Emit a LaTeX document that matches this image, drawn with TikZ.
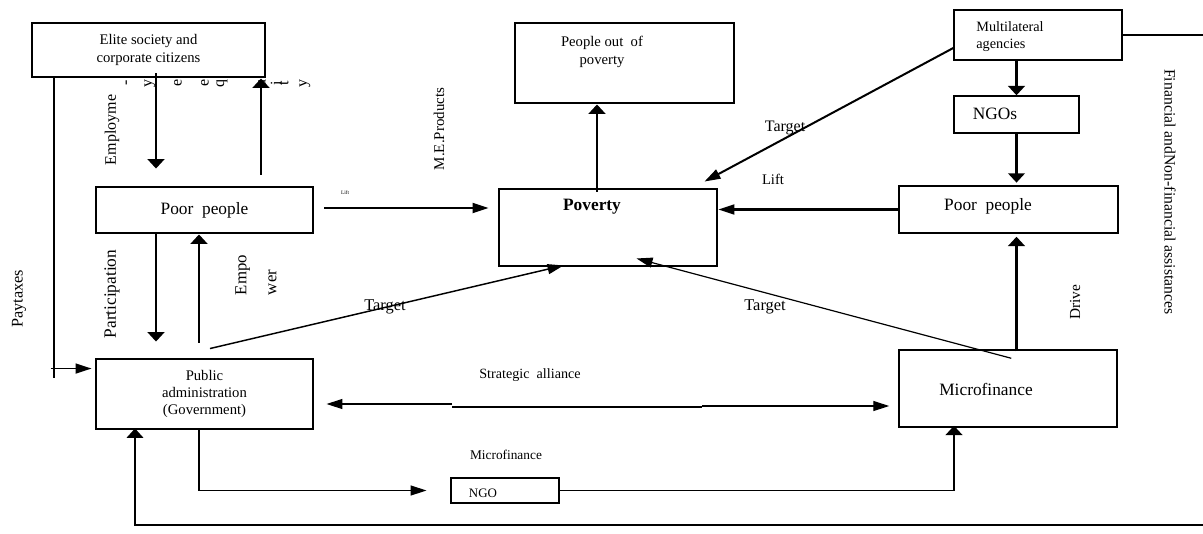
\documentclass[tikz,border=0pt]{standalone}
\usepackage{fontspec}
\setmainfont{Liberation Serif}
\usetikzlibrary{arrows.meta,calc}
\newcommand{\fsz}[2]{\fontsize{#1}{#2}\selectfont}

\begin{document}
\begin{tikzpicture}[
    x=0.75pt, y=-0.75pt,
    box/.style={draw, line width=2.2pt, inner sep=0pt},
    lightbox/.style={draw, line width=1.1pt, inner sep=0pt},
    txt/.style={inner sep=0pt, align=center},
    varr/.style={-{Triangle[length=7pt,width=12.5pt]}, line width=1.6pt},
    harr/.style={-{Triangle[length=12pt,width=7.5pt]}, line width=1.6pt},
    thin/.style={line width=0.9pt}
]
    \useasboundingbox (0,0) rectangle (1203,533);

    % column and row helpers
    \coordinate (cTax) at (54,0);
    \coordinate (cLoop) at (135,0);
    \coordinate (cEmp) at (156,0);
    \coordinate (cEmpw) at (199,0);
    \coordinate (cEq) at (261,0);
    \coordinate (cUp) at (597,0);
    \coordinate (cMf) at (954,0);
    \coordinate (rLift) at (0,208);
    \coordinate (rTop) at (1203,35);
    \coordinate (rEdge) at (1203,525);

    % boxes
    \node[box, minimum width=174.75pt, minimum height=40.5pt, txt, font=\fsz{11}{13.5}] (elite) at (148.5,50) {Elite society and\\corporate citizens};
    \node[box, minimum width=164.25pt, minimum height=60pt] (pout) at (624.5,63) {};
    \node[txt, font=\fsz{11}{13.5}] (pouttxt) at (602,52) {People out~~of\\poverty};
    \node[lightbox, minimum width=126pt, minimum height=37.5pt] (multi) at (1038,35) {};
    \node[txt, align=left, font=\fsz{10.7}{12.8}] (multitxt) at (1010,37) {Multilateral\\agencies};
    \node[lightbox, minimum width=93.75pt, minimum height=27.75pt] (ngos) at (1016.5,114.5) {};
    \node[txt, font=\fsz{13}{15}] (ngostxt) at (995,114) {NGOs};
    \node[box, minimum width=162.75pt, minimum height=34.5pt, font=\fsz{13}{15}] (poorL) at (204.5,210) {Poor~~people};
    \node[box, minimum width=163.5pt, minimum height=57.75pt] (pov) at (608,227.5) {};
    \node[txt, font=\fsz{13}{15}\bfseries] (povtxt) at (592,207) {Poverty};
    \node[lightbox, minimum width=164.25pt, minimum height=35.25pt] (poorR) at (1008.5,209.5) {};
    \node[txt, font=\fsz{13}{15}] (poorRtxt) at (988,206) {Poor~~people};
    \node[box, minimum width=162.75pt, minimum height=52.5pt, txt, font=\fsz{11}{12.8}] (gov) at (204.5,394) {Public\\administration\\(Government)};
    \node[lightbox, minimum width=163.5pt, minimum height=57.75pt] (micro) at (1008,388.5) {};
    \node[txt, font=\fsz{13}{15}] (microtxt) at (986,389) {Microfinance};
    \node[box, minimum width=81pt, minimum height=18.75pt] (ngo) at (505,490.5) {};
    \node[txt, font=\fsz{9.7}{11}] (ngotxt) at (483,493) {NGO};

    % labels
    \node[txt, rotate=90, font=\fsz{12}{14}] (lEmp) at (112,130) {Employme};
    \foreach \x/\c [count=\i] in {128/-,150/y,178/e,205/e,222/q,262/u,276/i,284/t,305/y}
        \node[txt, rotate=90, font=\fsz{12}{14}] (lEq\i) at (\x,83) {\c};
    \node[txt, font=\fsz{4}{5}] (lLift1) at (345,193) {Lift};
    \node[txt, rotate=90, font=\fsz{11.2}{13}] (lME) at (439,129) {M.E.Products};
    \node[txt, font=\fsz{12}{14}] (lTgt1) at (785,128) {Target};
    \node[txt, font=\fsz{11}{13}] (lLift2) at (773,179) {Lift};
    \node[txt, rotate=-90, font=\fsz{11.8}{14}] (lFin) at (1170,192) {Financial andNon-financial assistances};
    \node[txt, rotate=90, font=\fsz{11.5}{14}] (lDrive) at (1075,302) {Drive};
    \node[txt, font=\fsz{12.3}{14}] (lTgt2) at (765,307) {Target};
    \node[txt, font=\fsz{12.3}{14}] (lTgt3) at (385,307) {Target};
    \node[txt, rotate=90, font=\fsz{13}{15}] (lPart) at (112,294) {Participation};
    \node[txt, rotate=90, align=left, font=\fsz{12.6}{22.5}] (lEmpw) at (256,275) {Empo\\wer};
    \node[txt, rotate=90, font=\fsz{12.2}{14}] (lTax) at (19,299) {Paytaxes};
    \node[txt, font=\fsz{10.6}{13}] (lSA) at (530,375) {Strategic~~alliance};
    \node[txt, font=\fsz{10}{12}] (lMf) at (506,455) {Microfinance};

    % left side
    \draw[varr, shorten <=-3.75pt, shorten >=12.75pt] (elite.south -| cEmp) -- (poorL.north -| cEmp);
    \draw[varr, shorten <=8.25pt] (poorL.north -| cEq) -- (elite.south -| cEq);
    \draw[varr, shorten >=12pt] (poorL.south -| cEmp) -- (gov.north -| cEmp);
    \draw[varr, shorten <=11.25pt] (gov.north -| cEmpw) -- (poorL.south -| cEmpw);
    \draw[line width=2pt] (elite.south -| cTax) -- ++(0,300);
    \draw[harr, line width=1.2pt] ($(gov.north west)+(-44,11)$) -- ($(gov.north west)+(-3,11)$);

    % centre
    \draw[harr, shorten <=7.5pt, shorten >=6.75pt] (poorL.east |- rLift) -- (pov.west |- rLift);
    \draw[varr, shorten <=-3pt] (pov.north -| cUp) -- (pout.south -| cUp);
    \draw[harr, line width=1.1pt] ($(gov.north)+(5.5,-9)$) -- ($(pov.south west)+(66,-2)$);
    \draw[harr, line width=0.9pt] ($(micro.north west)+(113,9)$) -- ($(pov.south west)+(139,-9)$);

    % right side
    \draw[harr, line width=1.5pt] ($(multi.west)+(0,13)$) -- ($(pov.north east)+(-14,-6)$);
    \draw[varr] (multi.south -| ngos.north) -- (ngos.north);
    \draw[varr, shorten >=2pt] (ngos.south) -- (ngos.south |- poorR.north);
    \draw[harr] (poorR.west) -- (poorR.west -| pov.east);
    \draw[varr, shorten <=-1.5pt, shorten >=2.25pt] (micro.north -| ngos.south) -- (poorR.south -| ngos.south);
    \draw[thin] (multi.east) -- (rTop);

    % strategic alliance
    \draw[harr, thin] (452,404) -- ($(gov.east)+(12,10)$);
    \draw[line width=2.2pt] (452,407) -- (702,407);
    \draw[harr, thin] (702,406) -- ($(micro.west)+(-9,17.5)$);

    % bottom
    \draw[harr, thin, shorten >=17.25pt] (gov.south -| cEmpw) -- (cEmpw |- ngo.west) -- (ngo.west);
    \draw[thin] (ngo.east) -- (cMf |- ngo.east);
    \draw[varr, line width=1.5pt, shorten >=-1.5pt] (cMf |- ngo.east) -- (micro.south -| cMf);
    \draw[varr, thin, shorten >=-1.5pt] (rEdge) -- (cLoop |- rEdge) -- (gov.south -| cLoop);
\end{tikzpicture}
\end{document}
